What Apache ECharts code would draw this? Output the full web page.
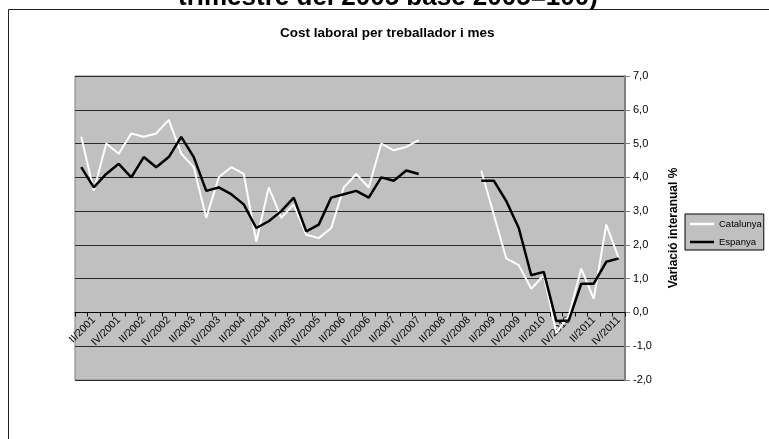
<!DOCTYPE html>
<html>
<head>
<meta charset="utf-8">
<script src="https://cdn.jsdelivr.net/npm/echarts@6/dist/echarts.min.js"></script>
<style>
  html, body { margin: 0; padding: 0; background: #fff; }
  #chart { width: 769px; height: 439px; }
</style>
</head>
<body>
<div id="chart"></div>
<script>
// Quarterly categories, 2001–2011
const categories = [
  'I/2001','II/2001','III/2001','IV/2001',
  'I/2002','II/2002','III/2002','IV/2002',
  'I/2003','II/2003','III/2003','IV/2003',
  'I/2004','II/2004','III/2004','IV/2004',
  'I/2005','II/2005','III/2005','IV/2005',
  'I/2006','II/2006','III/2006','IV/2006',
  'I/2007','II/2007','III/2007','IV/2007',
  'I/2008','II/2008','III/2008','IV/2008',
  'I/2009','II/2009','III/2009','IV/2009',
  'I/2010','II/2010','III/2010','IV/2010',
  'I/2011','II/2011','III/2011','IV/2011'
];

// Year-on-year change (%) of labour cost per worker and month; 2008 has no data
const catalunya = [
  5.2, 3.6, 5.0, 4.7,
  5.3, 5.2, 5.3, 5.7,
  4.7, 4.3, 2.8, 4.0,
  4.3, 4.1, 2.1, 3.7,
  2.8, 3.2, 2.3, 2.2,
  2.5, 3.7, 4.1, 3.7,
  5.0, 4.8, 4.9, 5.1,
  null, null, null, null,
  4.2, 2.9, 1.6, 1.4,
  0.7, 1.1, -0.6, -0.1,
  1.3, 0.4, 2.6, 1.6
];
const espanya = [
  4.3, 3.7, 4.1, 4.4,
  4.0, 4.6, 4.3, 4.6,
  5.2, 4.6, 3.6, 3.7,
  3.5, 3.2, 2.5, 2.7,
  3.0, 3.4, 2.4, 2.6,
  3.4, 3.5, 3.6, 3.4,
  4.0, 3.9, 4.2, 4.1,
  null, null, null, null,
  3.9, 3.9, 3.3, 2.5,
  1.1, 1.2, -0.25, -0.24,
  0.85, 0.85, 1.5, 1.6
];

const FONT = '"Liberation Sans", Arial, sans-serif';
const Y_MIN = -2;
const Y_MAX = 7;
const GRID_TOP = 76;
const GRID_BOTTOM = 59;
const CHART_H = 439;

// The category axis sits on the zero line: shift it up from the grid's bottom edge
const plotH = CHART_H - GRID_TOP - GRID_BOTTOM;
const zeroOffset = -plotH * (0 - Y_MIN) / (Y_MAX - Y_MIN);

const chart = echarts.init(document.getElementById('chart'), null, { renderer: 'canvas' });

chart.setOption({
  backgroundColor: '#ffffff',
  animation: false,
  title: [
    {
      text: 'trimestre del 2005 base 2005=100)',
      left: 178,
      top: -15,
      padding: 0,
      textStyle: { fontFamily: FONT, fontSize: 26, fontWeight: 'bold', color: '#000' }
    },
    {
      text: 'Cost laboral per treballador i mes',
      left: 280,
      top: 26,
      padding: 0,
      textStyle: { fontFamily: FONT, fontSize: 13.5, fontWeight: 'bold', color: '#000' }
    }
  ],
  graphic: [
    {
      type: 'rect',
      shape: { x: 8.5, y: 9.5, width: 800, height: 500 },
      style: { fill: 'none', stroke: '#222', lineWidth: 1 },
      z: 0
    }
  ],
  legend: {
    orient: 'vertical',
    left: 685,
    top: 214,
    padding: [5, 2, 3, 5],
    itemGap: 8,
    itemWidth: 24,
    itemHeight: 2.5,
    icon: 'rect',
    backgroundColor: '#C0C0C0',
    borderColor: '#000',
    borderWidth: 1,
    borderRadius: 0,
    textStyle: { fontFamily: FONT, fontSize: 9.5, color: '#000', lineHeight: 10 },
    data: ['Catalunya', 'Espanya']
  },
  grid: {
    left: 75,
    right: 144,
    top: GRID_TOP,
    bottom: GRID_BOTTOM,
    show: true,
    backgroundColor: '#C0C0C0',
    borderColor: '#808080',
    borderWidth: 1,
    containLabel: false
  },
  xAxis: {
    type: 'category',
    data: categories,
    boundaryGap: true,
    offset: zeroOffset,
    axisLine: { onZero: false, lineStyle: { color: '#000', width: 1 } },
    axisTick: { show: true, interval: 0, length: 4, lineStyle: { color: '#000' } },
    axisLabel: {
      interval: function (index) { return index % 2 === 1; },
      rotate: 45,
      margin: 6,
      fontFamily: FONT,
      fontSize: 10.5,
      color: '#000'
    },
    splitLine: { show: false }
  },
  yAxis: {
    type: 'value',
    position: 'right',
    min: Y_MIN,
    max: Y_MAX,
    interval: 1,
    name: 'Variació interanual %',
    nameLocation: 'middle',
    nameRotate: 90,
    nameGap: 43,
    nameTextStyle: { fontFamily: FONT, fontSize: 12, fontWeight: 'bold', color: '#000' },
    axisLine: { show: true, lineStyle: { color: '#808080', width: 2 } },
    axisTick: { show: true, length: 5, lineStyle: { color: '#808080', width: 1 } },
    axisLabel: {
      margin: 8,
      fontFamily: FONT,
      fontSize: 11,
      color: '#000',
      formatter: function (v) { return v.toFixed(1).replace('.', ','); }
    },
    splitLine: { show: true, lineStyle: { color: '#2a2a2a', width: 1 } }
  },
  series: [
    {
      name: 'Catalunya',
      type: 'line',
      data: catalunya,
      symbol: 'none',
      connectNulls: false,
      color: '#ffffff',
      lineStyle: { color: '#ffffff', width: 2 },
      z: 3
    },
    {
      name: 'Espanya',
      type: 'line',
      data: espanya,
      symbol: 'none',
      connectNulls: false,
      color: '#000000',
      lineStyle: { color: '#000000', width: 2.5 },
      z: 4
    }
  ]
});
</script>
</body>
</html>
